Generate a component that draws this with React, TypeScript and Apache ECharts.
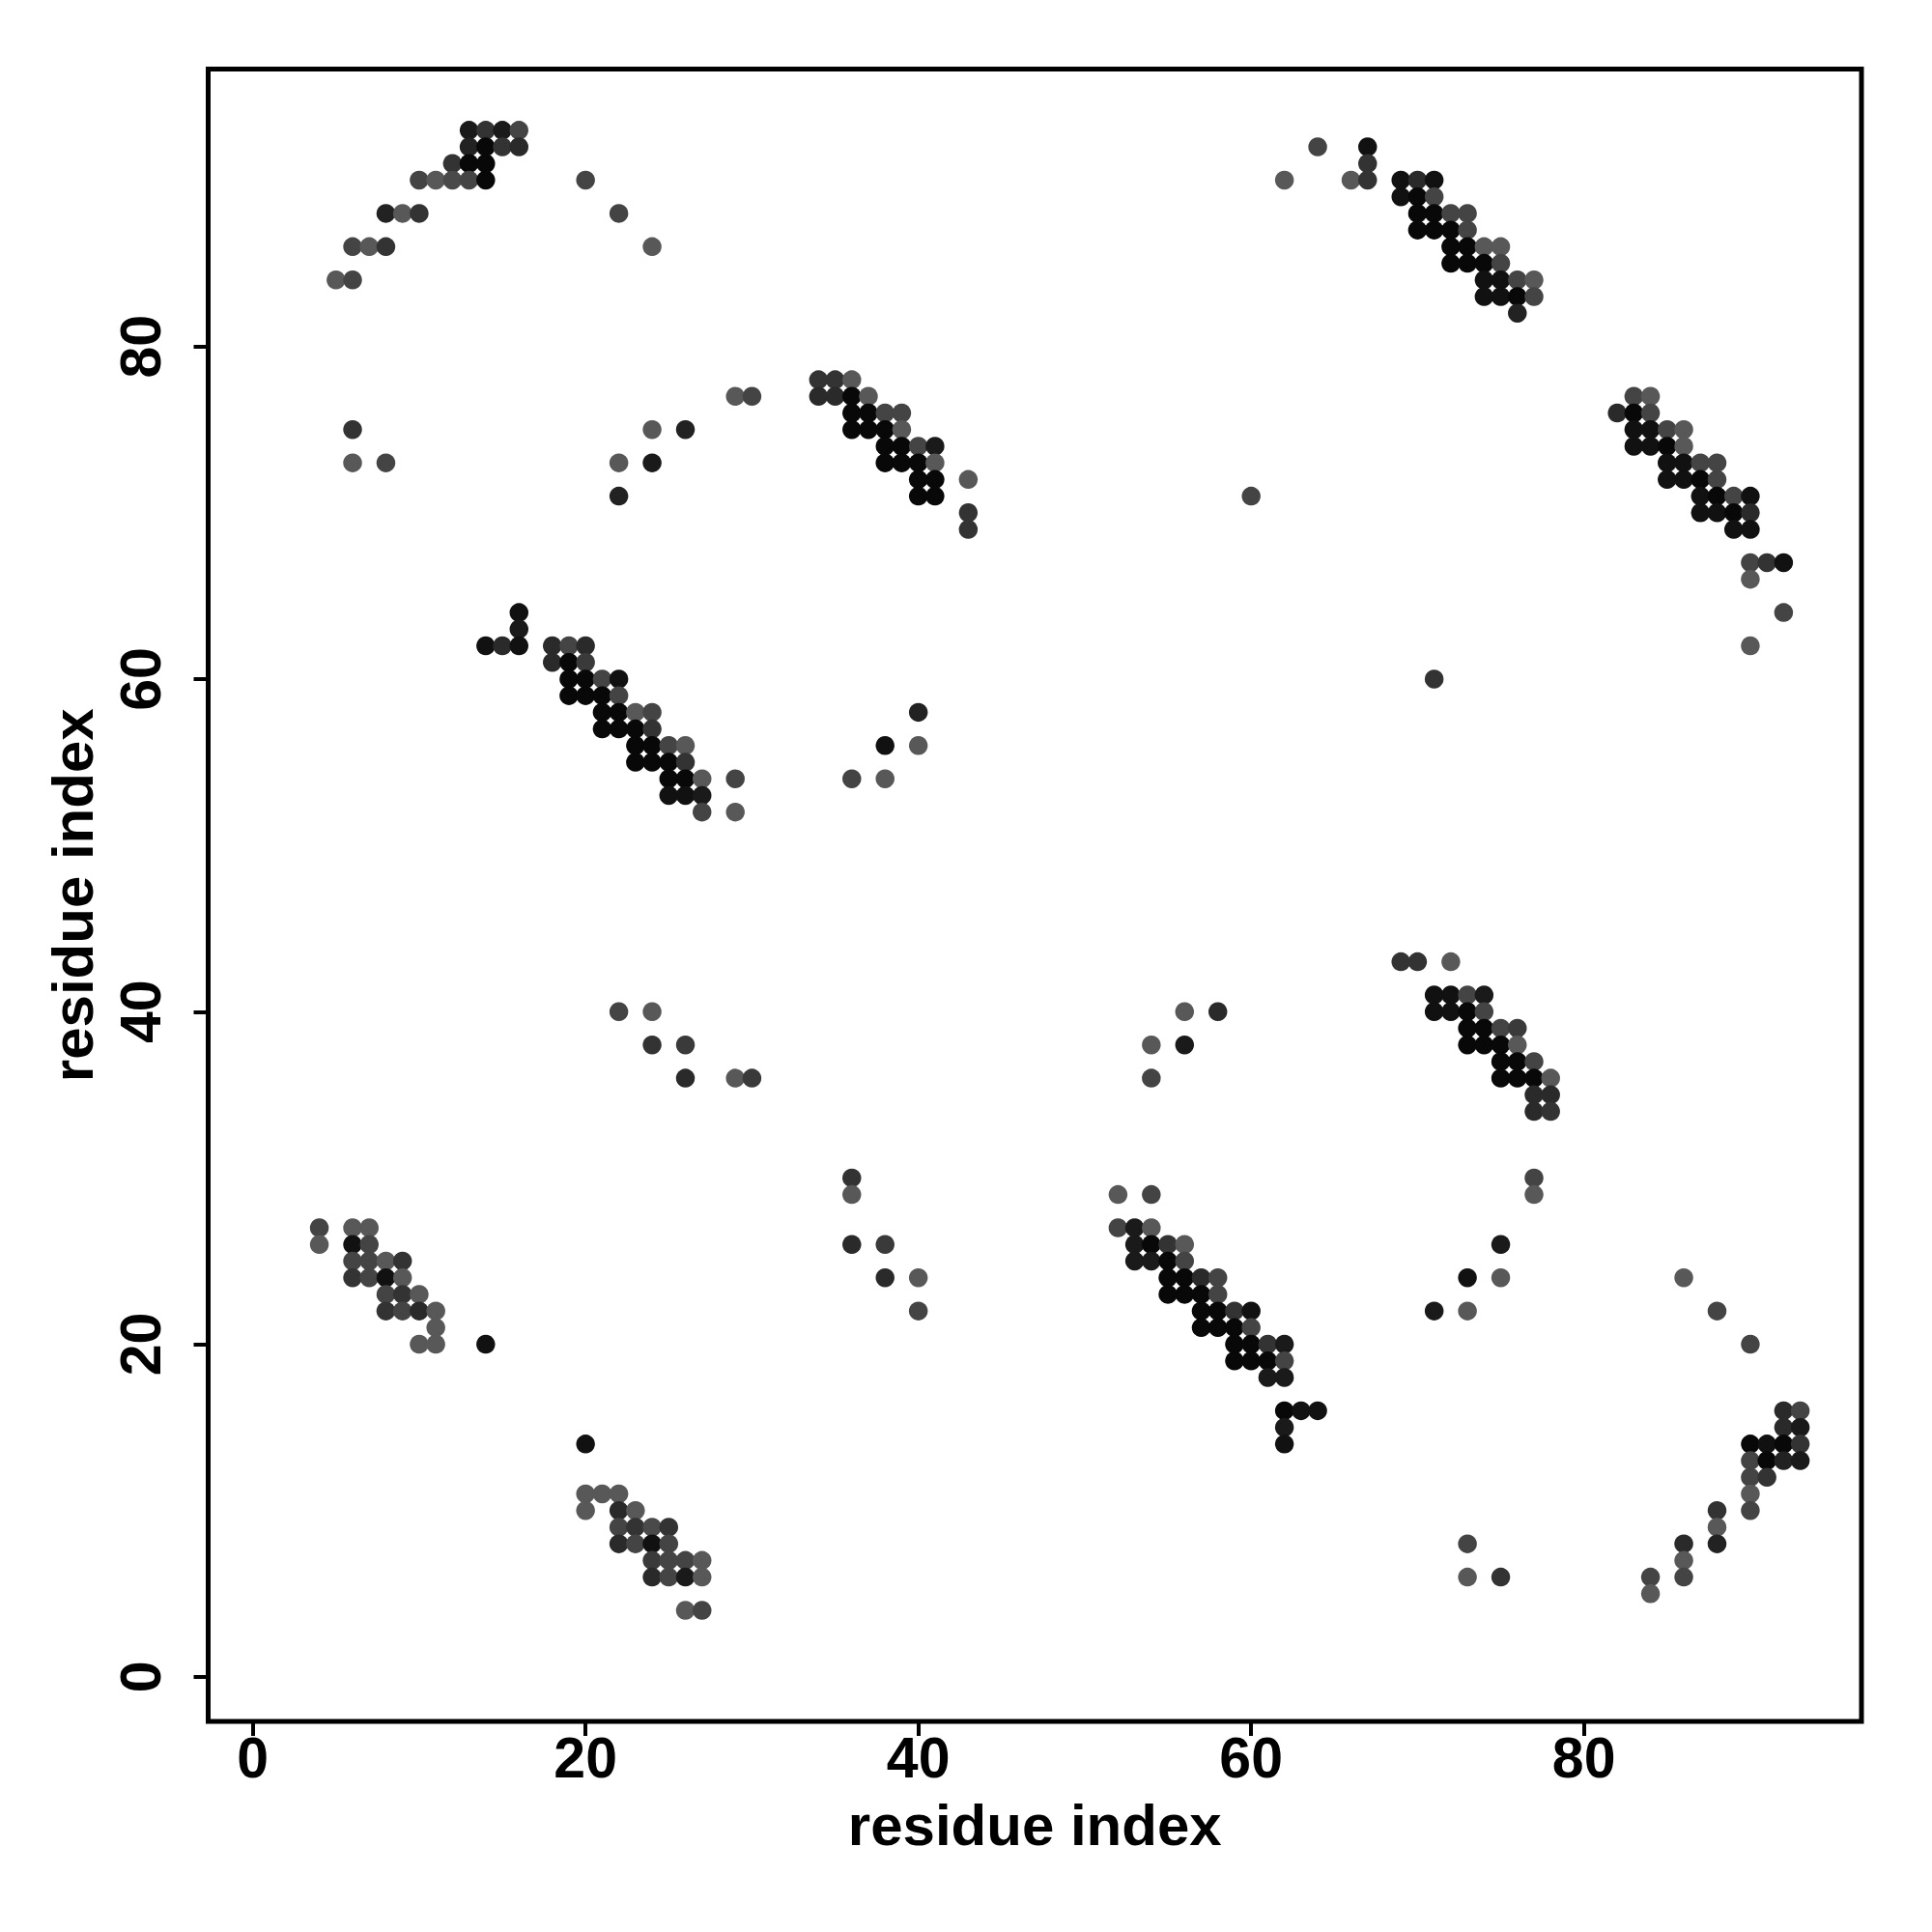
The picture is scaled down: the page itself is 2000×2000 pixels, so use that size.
import React, { useEffect, useRef } from "react";
import * as echarts from "echarts";

// Each point: [residue i, residue j, gray level 0-255]
const topLeftArc: number[][] = [
  [13,93,26],[14,93,51],[15,93,26],[16,93,68],
  [13,92,34],[14,92,8],[15,92,51],[16,92,42],
  [12,91,51],[13,91,8],[14,91,8],
  [10,90,68],[11,90,88],[12,90,74],[13,90,68],[14,90,8],
  [8,88,34],[9,88,88],[10,88,51],
  [6,86,68],[7,86,88],[8,86,51],
  [5,84,88],[6,84,68],
  [20,90,68],[22,88,68],[24,86,88],
];
const upperLeftScatter: number[][] = [
  [6,75,51],[6,73,88],[8,73,68],[24,75,88],[26,75,34],[22,73,88],[24,73,26],[22,71,34],[29,77,88],[30,77,68],
];
const centerTopDiagonal: number[][] = [
  [34,78,51],[35,78,51],[36,78,88],
  [34,77,42],[35,77,42],[36,77,8],[37,77,88],
  [36,76,8],[37,76,8],[38,76,68],[39,76,68],
  [36,75,8],[37,75,8],[38,75,8],[39,75,88],
  [38,74,8],[39,74,8],[40,74,68],[41,74,26],
  [38,73,8],[39,73,8],[40,73,8],[41,73,88],
  [40,72,8],[41,72,8],[43,72,88],
  [40,71,8],[41,71,8],
  [43,70,51],[43,69,51],
];
const topRightDiagonal: number[][] = [
  [64,92,68],[67,92,17],[67,91,51],[62,90,88],[66,90,88],[67,90,51],[69,90,17],[70,90,42],[71,90,17],
  [69,89,17],[70,89,8],[71,89,68],
  [70,88,8],[71,88,8],[72,88,68],[73,88,68],
  [70,87,8],[71,87,8],[72,87,8],[73,87,68],
  [72,86,8],[73,86,8],[74,86,88],[75,86,88],
  [72,85,8],[73,85,8],[74,85,8],[75,85,68],
  [74,84,17],[75,84,17],[76,84,68],[77,84,88],
  [74,83,17],[75,83,17],[76,83,8],[77,83,68],
  [76,82,34],
];
const rightDiagonal: number[][] = [
  [83,77,68],[84,77,88],
  [82,76,42],[83,76,8],[84,76,68],
  [83,75,17],[84,75,17],[85,75,68],[86,75,88],
  [83,74,17],[84,74,17],[85,74,8],[86,74,88],
  [85,73,17],[86,73,17],[87,73,68],[88,73,68],
  [85,72,17],[86,72,17],[87,72,8],[88,72,68],
  [87,71,17],[88,71,8],[89,71,68],[90,71,17],
  [87,70,17],[88,70,17],[89,70,8],[90,70,42],
  [89,69,17],[90,69,17],
  [90,67,68],[91,67,51],[92,67,17],
  [90,66,88],[92,64,68],[90,62,88],
  [60,71,68],[71,60,51],
];
const midLeftDiagonal: number[][] = [
  [16,64,17],[16,63,26],[14,62,17],[15,62,42],[16,62,17],
  [18,62,42],[19,62,68],[20,62,42],
  [18,61,42],[19,61,8],[20,61,58],
  [19,60,8],[20,60,8],[21,60,68],[22,60,17],
  [19,59,8],[20,59,8],[21,59,8],[22,59,68],
  [21,58,8],[22,58,8],[23,58,88],[24,58,68],
  [21,57,8],[22,57,8],[23,57,8],[24,57,51],
  [23,56,8],[24,56,8],[25,56,68],[26,56,88],
  [23,55,8],[24,55,8],[25,55,8],[26,55,51],
  [25,54,8],[26,54,8],[27,54,88],[29,54,68],
  [25,53,17],[26,53,17],[27,53,26],
  [27,52,68],[29,52,88],
  [36,54,68],[38,54,88],[38,56,17],[40,56,88],[40,58,34],
];
const centerBand: number[][] = [
  [22,40,68],[24,40,88],[24,38,51],[26,38,58],[26,36,42],[29,36,88],[30,36,58],
  [56,40,88],[58,40,42],[54,38,88],[56,38,26],[54,36,68],
  [69,43,51],[70,43,51],[72,43,88],
  [71,41,17],[72,41,17],[73,41,68],[74,41,26],
  [71,40,17],[72,40,17],[73,40,8],[74,40,68],
  [73,39,8],[74,39,8],[75,39,68],[76,39,58],
  [73,38,8],[74,38,8],[75,38,8],[76,38,88],
  [75,37,8],[76,37,8],[77,37,68],
  [75,36,8],[76,36,8],[77,36,8],[78,36,88],
  [77,35,42],[78,35,42],
  [77,34,42],[78,34,51],
];
const lowerLeftDiagonal: number[][] = [
  [4,27,68],[6,27,88],[7,27,88],
  [4,26,88],[6,26,17],[7,26,68],
  [6,25,68],[7,25,68],[8,25,88],[9,25,51],
  [6,24,51],[7,24,68],[8,24,17],[9,24,88],
  [8,23,68],[9,23,51],[10,23,88],
  [8,22,51],[9,22,68],[10,22,42],[11,22,88],
  [11,21,88],
  [10,20,88],[11,20,88],[14,20,17],
];
const bottomLeftDiagonal: number[][] = [
  [20,14,17],
  [20,11,88],[21,11,88],[22,11,88],
  [20,10,88],[22,10,42],[23,10,88],
  [22,9,68],[23,9,51],[24,9,74],[25,9,51],
  [22,8,42],[23,8,68],[24,8,17],[25,8,68],
  [24,7,58],[25,7,68],[26,7,68],[27,7,88],
  [24,6,42],[25,6,68],[26,6,26],[27,6,88],
  [26,4,88],[27,4,68],
];
const bottomCenterDiagonal: number[][] = [
  [36,30,51],[36,29,88],[36,26,42],[38,26,58],[38,24,42],[40,24,88],[40,22,68],
  [52,29,88],[54,29,68],
  [52,27,68],[53,27,26],[54,27,88],
  [53,26,26],[54,26,8],[55,26,51],[56,26,88],
  [53,25,26],[54,25,26],[55,25,8],[56,25,68],
  [55,24,8],[56,24,8],[57,24,42],[58,24,68],
  [55,23,8],[56,23,8],[57,23,8],[58,23,68],
  [57,22,8],[58,22,8],[59,22,51],[60,22,17],
  [57,21,8],[58,21,8],[59,21,8],[60,21,68],
  [59,20,8],[60,20,8],[61,20,51],[62,20,26],
  [59,19,8],[60,19,8],[61,19,8],[62,19,68],
  [61,18,26],[62,18,26],
  [62,16,8],[63,16,17],[64,16,17],
  [62,15,26],[62,14,17],
];
const bottomRight: number[][] = [
  [77,30,68],[77,29,88],[75,26,26],[73,24,17],[75,24,88],[71,22,26],[73,22,88],
  [73,8,68],[73,6,88],[75,6,51],
  [86,24,88],[88,22,68],[90,20,68],
  [92,16,42],[93,16,68],
  [92,15,42],[93,15,26],
  [90,14,8],[91,14,17],[92,14,8],[93,14,51],
  [90,13,68],[91,13,8],[92,13,34],[93,13,26],
  [90,12,68],[91,12,51],
  [90,11,88],[90,10,68],
  [88,10,51],[88,9,88],[88,8,34],
  [86,8,42],[86,7,88],[86,6,68],
  [84,6,68],[84,5,88],
];

const tickValues = [0, 20, 40, 60, 80];
const axisTitle = "residue index";

const allPoints = [
  ...topLeftArc, ...upperLeftScatter, ...centerTopDiagonal, ...topRightDiagonal,
  ...rightDiagonal, ...midLeftDiagonal, ...centerBand, ...lowerLeftDiagonal,
  ...bottomLeftDiagonal, ...bottomCenterDiagonal, ...bottomRight,
];

const FONT = "'Liberation Sans', Arial, Helvetica, sans-serif";

export default function App() {
  const ref = useRef<HTMLDivElement>(null);
  useEffect(() => {
    if (!ref.current) return;
    const chart = echarts.init(ref.current, null, { renderer: "svg" });
    const axisCommon = (isY: boolean) => ({
      type: "value" as const,
      min: -2.68,
      max: 96.68,
      axisLine: { show: false, onZero: false },
      splitLine: { show: false },
      axisTick: {
        show: true,
        customValues: tickValues,
        length: 15,
        lineStyle: { color: "#000", width: 4 },
      },
      axisLabel: {
        customValues: tickValues,
        fontSize: 59,
        fontWeight: "bold" as const,
        fontFamily: FONT,
        color: "#000",
        margin: isY ? 40 : 8,
        rotate: isY ? 90 : 0,
      },
      name: axisTitle,
      nameLocation: "middle" as const,
      nameGap: isY ? 110 : 77,
      nameRotate: isY ? 90 : 0,
      nameTextStyle: {
        fontSize: 60,
        fontWeight: "bold" as const,
        fontFamily: FONT,
        color: "#000",
      },
    });
    chart.setOption({
      animation: false,
      backgroundColor: "#fff",
      grid: {
        show: true,
        left: 215.5,
        top: 71.5,
        width: 1711.5,
        height: 1710.5,
        borderColor: "#000",
        borderWidth: 5,
        backgroundColor: "transparent",
      },
      xAxis: axisCommon(false),
      yAxis: axisCommon(true),
      series: [
        {
          type: "scatter",
          symbol: "circle",
          symbolSize: 19.5,
          itemStyle: { opacity: 1 },
          data: allPoints.map((p) => ({
            value: [p[0], p[1]],
            itemStyle: { color: `rgb(${p[2]},${p[2]},${p[2]})`, opacity: 1 },
          })),
        },
      ],
    });
    return () => chart.dispose();
  }, []);
  return (
    <div
      ref={ref}
      style={{ position: "fixed", left: 0, top: 0, width: 2000, height: 2000 }}
    />
  );
}
